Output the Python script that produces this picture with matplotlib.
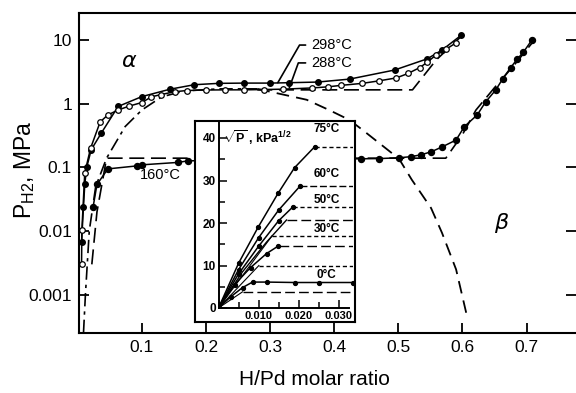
import matplotlib
matplotlib.use("Agg")
import matplotlib.pyplot as plt
from matplotlib.ticker import NullLocator, MultipleLocator

plt.rcParams['font.family'] = ['Liberation Sans', 'DejaVu Sans']
plt.rcParams['mathtext.fontset'] = 'custom'
plt.rcParams['mathtext.rm'] = 'Liberation Sans'
plt.rcParams['mathtext.bf'] = 'Liberation Sans:bold'

# --- main plot data (H/Pd, MPa) ---
x298 = [0.006, 0.009, 0.011, 0.014, 0.021, 0.037, 0.063, 0.10, 0.144, 0.182, 0.22, 0.26, 0.30, 0.33, 0.374, 0.424, 0.494, 0.545, 0.568, 0.598]
p298 = [0.0068, 0.024, 0.054, 0.10, 0.19, 0.35, 0.91, 1.30, 1.70, 2.0, 2.1, 2.12, 2.12, 2.15, 2.2, 2.45, 3.4, 5.1, 7.0, 12.0]

x288 = [0.006, 0.0065, 0.011, 0.02, 0.035, 0.047, 0.063, 0.08, 0.10, 0.115, 0.13, 0.151, 0.17, 0.20, 0.23, 0.26, 0.29, 0.32, 0.366, 0.39, 0.41, 0.444, 0.47, 0.497, 0.515, 0.533, 0.545, 0.559, 0.575, 0.59]
p288 = [0.003, 0.0105, 0.082, 0.20, 0.52, 0.67, 0.80, 0.92, 1.05, 1.29, 1.40, 1.55, 1.62, 1.65, 1.66, 1.66, 1.68, 1.70, 1.78, 1.85, 1.95, 2.1, 2.3, 2.56, 3.0, 3.7, 4.5, 5.9, 7.3, 9.1]

x160 = [0.024, 0.030, 0.047, 0.093, 0.10, 0.156, 0.172, 0.25, 0.35, 0.442, 0.47, 0.501, 0.52, 0.535, 0.551, 0.568, 0.59, 0.603, 0.623, 0.636, 0.652, 0.663, 0.675, 0.685, 0.695, 0.708]
p160 = [0.024, 0.054, 0.095, 0.106, 0.11, 0.12, 0.127, 0.132, 0.135, 0.137, 0.138, 0.142, 0.148, 0.158, 0.176, 0.21, 0.27, 0.44, 0.67, 1.07, 1.66, 2.5, 3.7, 5.0, 6.5, 10.0]

# calculated isotherms (dashed)
xcalc_hi = [0.28, 0.522, 0.559, 0.60]
pcalc_hi = [1.66, 1.66, 4.9, 12.0]
xcalc_160 = [0.022, 0.03, 0.045, 0.574, 0.60, 0.621, 0.65, 0.68, 0.712]
pcalc_160 = [0.003, 0.02, 0.14, 0.14, 0.33, 0.8, 1.8, 4.0, 10.0]

# two-phase boundary: alpha branch (dash-dot) and beta branch (dashed)
xa_branch = [0.009, 0.012, 0.018, 0.028, 0.045, 0.074, 0.10, 0.131, 0.167, 0.22, 0.28]
pa_branch = [0.00025, 0.001, 0.01, 0.05, 0.14, 0.44, 0.80, 1.29, 1.60, 1.72, 1.72]
xb_branch = [0.28, 0.357, 0.392, 0.4235, 0.444, 0.501, 0.521, 0.551, 0.568, 0.59, 0.607]
pb_branch = [1.72, 1.16, 0.80, 0.56, 0.39, 0.137, 0.064, 0.023, 0.0094, 0.0025, 0.00046]

# --- inset data: sqrt(P), kPa^1/2 vs H/Pd ---
ins_rise = {
    '75': ([0.0, 0.005, 0.0099, 0.0149, 0.019, 0.0241], [0.0, 10.5, 19.0, 27.0, 33.0, 38.0]),
    '60': ([0.0, 0.005, 0.010, 0.015, 0.0204], [0.0, 9.0, 16.5, 23.0, 28.7]),
    '50': ([0.0, 0.005, 0.010, 0.015, 0.0186], [0.0, 8.0, 14.5, 20.5, 23.8]),
    '40': ([0.0, 0.006, 0.012, 0.017], [0.0, 8.5, 15.5, 20.7]),
    '30': ([0.0, 0.004, 0.008, 0.012, 0.0148], [0.0, 5.5, 9.5, 12.8, 14.5]),
    '0': ([0.0, 0.003, 0.006, 0.0085, 0.012, 0.019, 0.025, 0.0335], [0.0, 2.6, 4.8, 6.1, 6.1, 6.0, 6.0, 6.0]),
}
ins_plat_x = [0.0241, 0.0204, 0.0186, 0.017, 0.0134, 0.015, 0.0101, 0.006]
ins_plat_y = [38.0, 28.7, 23.8, 20.7, 17.0, 14.6, 10.0, 3.8]
ins_plat_style = ['short', 'mid', 'short', 'long', 'short', 'long', 'short', 'long']

fig = plt.figure(figsize=(5.76, 3.93), dpi=100)
ax = fig.add_axes([79/576, 1 - 333/393, 1 - 79/576, (333 - 13)/393])

ax.plot(xa_branch, pa_branch, color='black', lw=1.2, dashes=(8, 3, 2, 3))
ax.plot(xb_branch, pb_branch, color='black', lw=1.3, dashes=(7, 4))
ax.plot(xcalc_hi, pcalc_hi, color='black', lw=1.2, dashes=(9, 4))
ax.plot(xcalc_160, pcalc_160, color='black', lw=1.2, dashes=(9, 4))

ax.plot(x298, p298, color='black', lw=1.1, marker='o', ms=4.0, mfc='black')
ax.plot(x288, p288, color='black', lw=1.1, marker='o', ms=4.0, mfc='white', mew=0.9)
ax.plot(x160, p160, color='black', lw=1.1, marker='o', ms=4.3, mfc='black')

ax.set_yscale('log')
ax.set_xlim(0.002, 0.777)
ax.set_ylim(0.00025, 26.8)
ax.set_xticks([0.1, 0.2, 0.3, 0.4, 0.5, 0.6, 0.7])
ax.set_xticklabels(['0.1', '0.2', '0.3', '0.4', '0.5', '0.6', '0.7'])
ax.set_yticks([0.001, 0.01, 0.1, 1, 10])
ax.set_yticklabels(['0.001', '0.01', '0.1', '1', '10'])
ax.yaxis.set_minor_locator(NullLocator())
ax.tick_params(which='major', direction='in', length=7, width=1.3, labelsize=12.5, right=True, pad=5)
ax.spines['right'].set_visible(False)
for s in ['left', 'bottom', 'top']:
    ax.spines[s].set_linewidth(1.5)

ax.set_xlabel('H/Pd molar ratio', fontsize=15)
ax.xaxis.set_label_coords(0.473, -0.115)
ax.set_ylabel(r'P$_{\mathrm{H2}}$, MPa', fontsize=16.5)
ax.yaxis.set_label_coords(-0.085, 0.51)

ax.text(0.081, 4.6, r'$\alpha$', fontsize=16, ha='center', va='center')
ax.text(0.662, 0.0135, r'$\beta$', fontsize=16, ha='center', va='center')
ax.text(0.097, 0.077, '160°C', fontsize=10.5, va='center')
ax.annotate('298°C', xy=(0.312, 2.15), xytext=(0.364, 8.4), fontsize=10.5, va='center',
            arrowprops=dict(arrowstyle='-', lw=1.2, color='black', shrinkA=2, shrinkB=0,
                            connectionstyle='angle,angleA=0,angleB=60,rad=0'))
ax.annotate('288°C', xy=(0.33, 1.8), xytext=(0.364, 4.4), fontsize=10.5, va='center',
            arrowprops=dict(arrowstyle='-', lw=1.2, color='black', shrinkA=2, shrinkB=0,
                            connectionstyle='angle,angleA=0,angleB=70,rad=0'))

# inset frame
frame = fig.add_axes([195/576, 1 - 322/393, 160/576, 201/393])
frame.set_xticks([])
frame.set_yticks([])
frame.set_facecolor('white')
for s in frame.spines.values():
    s.set_linewidth(1.5)

ins = fig.add_axes([218.5/576, 1 - 308/393, 134/576, 187/393])
ins.patch.set_alpha(0)
dash_map = {'short': (3, 2), 'mid': (5, 2), 'long': (7, 3)}
for xp, yp, st in zip(ins_plat_x, ins_plat_y, ins_plat_style):
    ins.plot([xp, 0.0335], [yp, yp], color='black', lw=1.0, dashes=dash_map[st])
for key, (xs, ys) in ins_rise.items():
    if key == '40':
        ins.plot(xs, ys, color='black', lw=1.0)
    else:
        ins.plot(xs, ys, color='black', lw=1.1, marker='o', ms=2.8)
ins.plot([0.0, 0.0134], [0.0, 17.0], color='black', lw=0.8)
ins.plot([0.0, 0.0101], [0.0, 10.0], color='black', lw=0.8)
ins.plot([0.0, 0.006], [0.0, 3.8], color='black', lw=0.8)

ins.set_xlim(0, 0.0335)
ins.set_ylim(0, 44)
ins.spines['top'].set_visible(False)
ins.spines['right'].set_visible(False)
ins.spines['bottom'].set_bounds(0, 0.0325)
ins.spines['left'].set_linewidth(1.4)
ins.spines['bottom'].set_linewidth(1.4)
ins.set_xticks([0.010, 0.020, 0.030])
ins.set_xticklabels(['0.010', '0.020', '0.030'])
ins.xaxis.set_minor_locator(MultipleLocator(0.005))
ins.set_yticks([0, 10, 20, 30, 40])
ins.yaxis.set_minor_locator(MultipleLocator(5))
ins.tick_params(which='both', direction='in', width=1.1, labelsize=8.5, pad=2)
ins.tick_params(which='major', length=6)
ins.tick_params(which='minor', length=4)
for lab in ins.get_xticklabels() + ins.get_yticklabels():
    lab.set_fontweight('bold')
ins.tick_params(axis='x', labelsize=8)

ins.text(0.0012, 40, r'$\sqrt{\mathbf{P}}$ , kPa$^{\mathbf{1/2}}$', fontsize=9, fontweight='bold', va='center')
for lbl, yv in [('75°C', 42), ('60°C', 31.5), ('50°C', 25.5), ('30°C', 18.5), ('0°C', 7.8)]:
    ins.text(0.0270, yv, lbl, fontsize=8.5, fontweight='bold', ha='center', va='center')

fig.savefig('out.png', dpi=100)
